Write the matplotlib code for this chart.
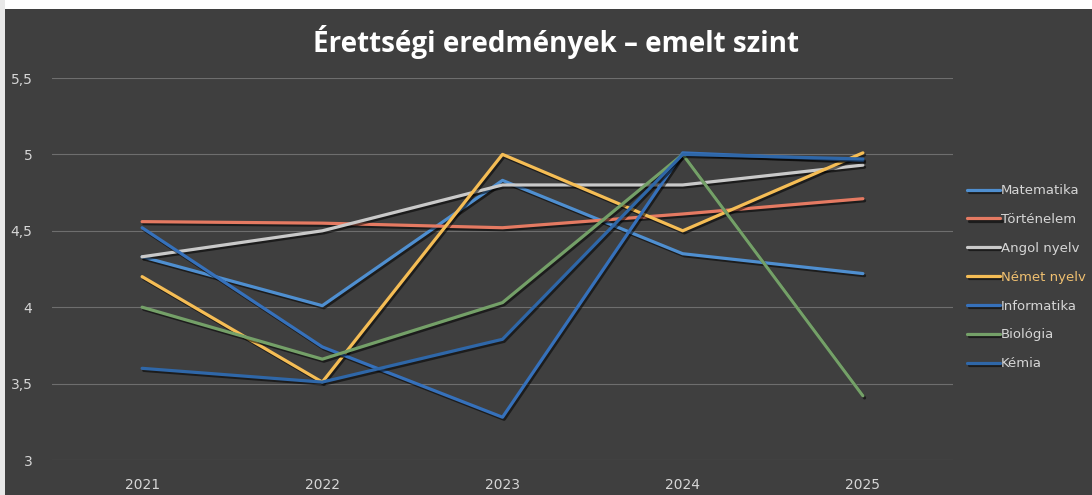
import matplotlib
matplotlib.use("Agg")
import matplotlib.pyplot as plt
import matplotlib.patheffects as pe
from matplotlib.patches import Rectangle

years = ["2021", "2022", "2023", "2024", "2025"]
matematika = [4.33, 4.01, 4.83, 4.35, 4.22]
tortenelem = [4.56, 4.55, 4.52, 4.61, 4.71]
angol = [4.33, 4.50, 4.80, 4.80, 4.93]
nemet = [4.20, 3.51, 5.00, 4.50, 5.01]
informatika = [4.52, 3.74, 3.28, 5.01, 4.96]
biologia = [4.00, 3.66, 4.03, 5.00, 3.42]
kemia = [3.60, 3.51, 3.79, 5.00, 4.97]

series = [
    ("Matematika", matematika, "#4f8fd0"),
    ("Történelem", tortenelem, "#e57a62"),
    ("Angol nyelv", angol, "#c9c9c9"),
    ("Német nyelv", nemet, "#f5bd55"),
    ("Informatika", informatika, "#3671bb"),
    ("Biológia", biologia, "#74a068"),
    ("Kémia", kemia, "#2f67a8"),
]

bg = "#3f3f3f"
fig = plt.figure(figsize=(10.92, 4.95), dpi=100, facecolor=bg)
# white scan border
fig.patches.append(Rectangle((0, 1 - 9 / 495), 1, 9 / 495, transform=fig.transFigure,
                             facecolor="white", edgecolor="none", zorder=-1))
fig.patches.append(Rectangle((0, 0), 5 / 1092, 1, transform=fig.transFigure,
                             facecolor="#e8e8e8", edgecolor="none", zorder=-1))

ax = fig.add_axes([52 / 1092, 1 - 460 / 495, (953 - 52) / 1092, (460 - 78) / 495])
ax.set_facecolor(bg)
for s in ax.spines.values():
    s.set_visible(False)

x = list(range(len(years)))
shadow = [pe.SimpleLineShadow(offset=(1.2, -1.5), shadow_color="black", alpha=0.55), pe.Normal()]
for name, vals, col in series:
    ax.plot(x, vals, color=col, lw=2.3, label=name, path_effects=shadow, solid_capstyle="round")

ax.set_xlim(-0.5, len(years) - 0.5)
ax.set_ylim(3, 5.5)
ax.set_yticks([3, 3.5, 4, 4.5, 5, 5.5])
ax.set_yticklabels(["3", "3,5", "4", "4,5", "5", "5,5"])
ax.set_xticks(x)
ax.set_xticklabels(years)
ax.tick_params(axis="both", length=0, colors="#d6d6d6", labelsize=10)
ax.tick_params(axis="y", pad=14)
ax.tick_params(axis="x", pad=13)
ax.grid(axis="y", color="#7a7a7a", lw=0.8, alpha=0.8)
ax.set_axisbelow(True)

fig.text(556 / 1092, 1 - 42 / 495, "Érettségi eredmények – emelt szint", ha="center", va="center",
         color="white", fontsize=20, fontweight="bold", family=["Open Sans", "DejaVu Sans"])

leg = ax.legend(loc="upper left", bbox_to_anchor=(962 / 1092, 1 - 179 / 495),
                bbox_transform=fig.transFigure, frameon=False, fontsize=9.5,
                handlelength=2.5, handletextpad=0.05, labelspacing=1.2, borderaxespad=0)
for t, (_, _, col) in zip(leg.get_texts(), series):
    t.set_color("#f0c070" if col == "#f5bd55" else "#d6d6d6")

fig.savefig("out.png", dpi=100, facecolor=bg)
